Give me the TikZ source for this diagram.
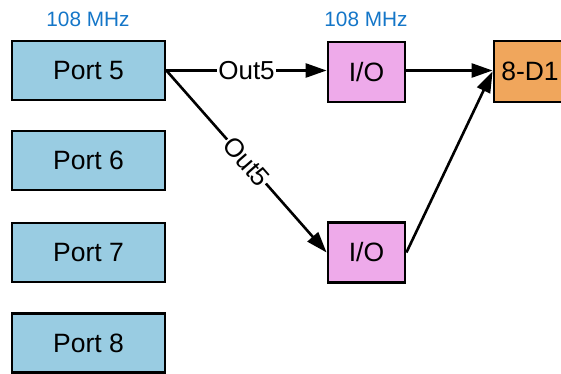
\documentclass[tikz,border=0pt]{standalone}
\usepackage{fontspec}
\setmainfont{Liberation Sans}
\usetikzlibrary{arrows.meta}
\definecolor{portblue}{RGB}{153,204,226}
\definecolor{iopink}{RGB}{238,170,234}
\definecolor{dorange}{RGB}{240,166,92}
\definecolor{freqblue}{RGB}{20,118,200}
\begin{document}
\begin{tikzpicture}[x=1pt,y=-1pt,
  box/.style={draw=black,line width=2.8pt,minimum width=153pt,minimum height=59pt,inner sep=0pt,font=\fontsize{26.5}{30}\selectfont},
  portbox/.style={box,fill=portblue},
  iobox/.style={box,fill=iopink,minimum width=77pt,minimum height=60pt},
  dbox/.style={box,fill=dorange,minimum width=72pt,minimum height=61pt},
  freq/.style={text=freqblue,font=\fontsize{20.8}{24}\selectfont,inner sep=0pt},
  conn/.style={line width=2.6pt,-{Triangle[length=21pt,width=14pt]}},
  lbl/.style={fill=white,inner sep=1pt,font=\fontsize{26}{30}\selectfont}
]
\useasboundingbox (0,0) rectangle (561,373);
\begin{scope}
\clip (0,0) rectangle (561,373);
\node[portbox] (p5) at (88.5,70.5) {Port 5};
\node[portbox] (p6) at (88.5,160.5) {Port 6};
\node[portbox] (p7) at (88.5,252.5) {Port 7};
\node[portbox] (p8) at (88.5,343) {Port 8};
\node[iobox] (io1) at (366.5,72) {I/O};
\node[iobox] (io2) at (366.5,252.5) {I/O};
\node[dbox] (d1) at (530,71.5) {8-D1};
\node[freq] (f1) at (88,19) {108 MHz};
\node[freq] (f2) at (366,19) {108 MHz};
\draw[conn] (p5.east) -- node[lbl] (l1) {Out5} (io1.west |- p5.east);
\draw[conn] (p5.east) -- node[lbl,sloped] (l2) {Out5} (io2.west);
\draw[conn] (io1.east |- p5.east) -- (d1.west |- p5.east);
\draw[conn] (io2.east) -- (d1.west);
\end{scope}
\end{tikzpicture}
\end{document}
